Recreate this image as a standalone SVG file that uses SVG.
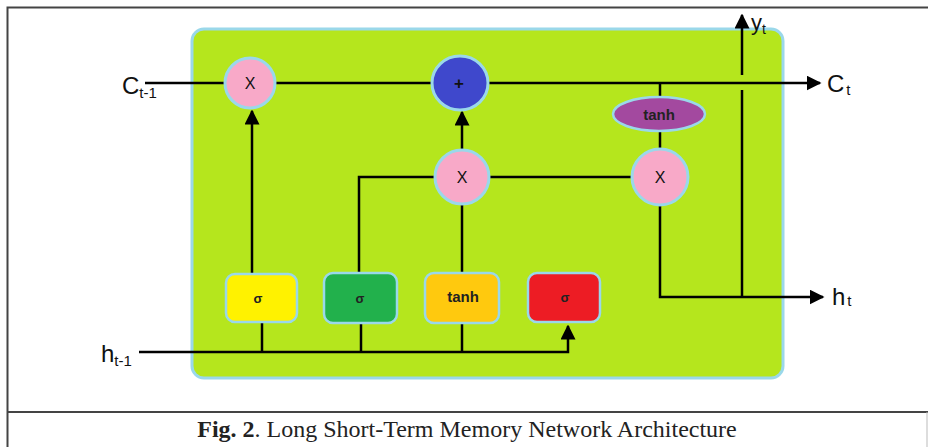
<svg xmlns="http://www.w3.org/2000/svg" width="928" height="447" viewBox="0 0 928 447">
<style>
.frame{stroke:#444;stroke-width:2;fill:none}
.op{fill:#f8a9c8;stroke:#9ad8ea;stroke-width:3}
.gate{stroke:#9ad8ea;stroke-width:2.5}
.ln{stroke:#000;stroke-width:2.5;fill:none}
.lbl{font-family:"Liberation Sans",Arial,sans-serif;fill:#111}
.gt{font-family:"Liberation Sans",Arial,sans-serif;font-weight:bold;fill:#222;text-anchor:middle}
</style>
<defs>
<marker id="ah" viewBox="0 0 10 10" refX="9" refY="5" markerWidth="6" markerHeight="6" markerUnits="strokeWidth" orient="auto">
<path d="M0,0 L10,5 L0,10 Z" fill="#000"/>
</marker>
</defs>
<g id="frame">
<path class="frame" d="M928,7.5 H7.5 V447"/>
<path class="frame" d="M7,412 H928"/>
<path d="M927,412 V447" stroke="#bbb" stroke-width="1"/>
</g>
<g id="cell">
<rect x="192" y="29" width="591" height="349" rx="12" fill="#b5e61d" stroke="#9ad8ea" stroke-width="3"/>
</g>
<g id="connectors">
<path class="ln" d="M145,83 H225"/>
<path class="ln" d="M275,83 H432"/>
<path class="ln" d="M488,83 H820" marker-end="url(#ah)"/>
<path class="ln" d="M660,83 V97"/>
<path class="ln" d="M660,131 V149"/>
<path class="ln" d="M742,75 V15" marker-end="url(#ah)"/>
<path class="ln" d="M742,90 V297"/>
<path class="ln" d="M660,205 V297 H823" marker-end="url(#ah)"/>
<path class="ln" d="M139,352 H568 V326" marker-end="url(#ah)"/>
<path class="ln" d="M262,352 V323"/>
<path class="ln" d="M361,352 V323"/>
<path class="ln" d="M462,352 V323"/>
<path class="ln" d="M252,273 V111" marker-end="url(#ah)"/>
<path class="ln" d="M359,273 V177 H435"/>
<path class="ln" d="M462,273 V204"/>
<path class="ln" d="M462,150 V112" marker-end="url(#ah)"/>
<path class="ln" d="M489,177 H632"/>
</g>
<g id="forget-mult">
<circle class="op" cx="250" cy="83" r="25"/>
<text class="lbl" x="250" y="89" font-size="16" text-anchor="middle">X</text>
</g>
<g id="add">
<ellipse cx="460" cy="83" rx="28" ry="27" fill="#3f48cc" stroke="#9ad8ea" stroke-width="3"/>
<text class="lbl" x="459" y="89" font-size="17" font-weight="bold" text-anchor="middle">+</text>
</g>
<g id="input-mult">
<circle class="op" cx="462" cy="177" r="27"/>
<text class="lbl" x="462" y="183" font-size="16" text-anchor="middle">X</text>
</g>
<g id="output-mult">
<circle class="op" cx="660" cy="177" r="28"/>
<text class="lbl" x="660" y="183" font-size="16" text-anchor="middle">X</text>
</g>
<g id="tanh-out">
<ellipse cx="659" cy="114" rx="46" ry="17" fill="#a3499f" stroke="#9ad8ea" stroke-width="2.5"/>
<text class="gt" x="659" y="120" font-size="15">tanh</text>
</g>
<g id="gate-forget">
<rect class="gate" x="226" y="274" width="71" height="48" rx="9" fill="#fff200"/>
<text class="gt" x="258" y="303" font-size="13">σ</text>
</g>
<g id="gate-input">
<rect class="gate" x="324" y="273" width="73" height="50" rx="9" fill="#22b14c"/>
<text class="gt" x="360" y="303" font-size="13">σ</text>
</g>
<g id="gate-candidate">
<rect class="gate" x="425" y="273" width="74" height="50" rx="9" fill="#ffc90e"/>
<text class="gt" x="463" y="302" font-size="15">tanh</text>
</g>
<g id="gate-output">
<rect class="gate" x="528" y="273" width="72" height="49" rx="9" fill="#ed1c24"/>
<text class="gt" x="565" y="302" font-size="13">σ</text>
</g>
<g id="labels">
<text class="lbl" x="122" y="94" font-size="24">C<tspan font-size="15" dy="4">t-1</tspan></text>
<text class="lbl" x="827" y="92" font-size="24">C<tspan font-size="15" dx="2" dy="3">t</tspan></text>
<text class="lbl" x="751" y="30" font-size="22">y<tspan font-size="14" dy="4">t</tspan></text>
<text class="lbl" x="832" y="305" font-size="24">h<tspan font-size="15" dx="2" dy="1">t</tspan></text>
<text class="lbl" x="101" y="362" font-size="24">h<tspan font-size="15" dy="4">t-1</tspan></text>
</g>
<g id="caption">
<text x="467" y="437" font-family="Liberation Serif,'Times New Roman',serif" font-size="24" fill="#222" text-anchor="middle"><tspan font-weight="bold">Fig. 2</tspan>. Long Short-Term Memory Network Architecture</text>
</g>
</svg>
